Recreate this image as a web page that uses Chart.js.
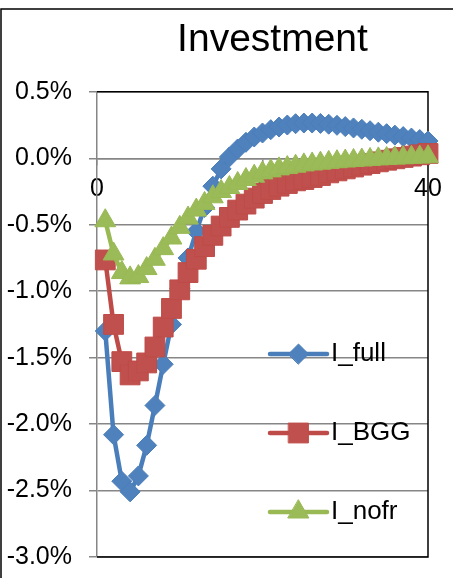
<!DOCTYPE html>
<html>
<head>
<meta charset="utf-8">
<title>Investment</title>
<script src="https://cdn.jsdelivr.net/npm/chart.js@4.4.1/dist/chart.umd.min.js"></script>
<style>
  html, body { margin: 0; padding: 0; background: #fff; overflow: hidden; }
  #wrap { width: 453px; height: 578px; overflow: hidden; }
  canvas { display: block; }
</style>
</head>
<body>
<div id="wrap"><canvas id="investChart" width="545" height="578"></canvas></div>
<script>
// ---------- Data ----------
const periods = [1, 2, 3, 4, 5, 6, 7, 8, 9, 10,
  11, 12, 13, 14, 15, 16, 17, 18, 19, 20,
  21, 22, 23, 24, 25, 26, 27, 28, 29, 30,
  31, 32, 33, 34, 35, 36, 37, 38, 39, 40];

// values in percent
const iFull = [-1.30, -2.08, -2.43, -2.51, -2.39, -2.16, -1.86, -1.55, -1.25, -0.98,
  -0.75, -0.55, -0.37, -0.21, -0.08, 0.01, 0.07, 0.12, 0.16, 0.19,
  0.215, 0.235, 0.25, 0.26, 0.265, 0.265, 0.262, 0.256, 0.248, 0.238,
  0.228, 0.218, 0.207, 0.196, 0.185, 0.174, 0.163, 0.152, 0.141, 0.13];

const iBGG = [-0.765, -1.25, -1.53, -1.63, -1.60, -1.54, -1.42, -1.27, -1.13, -0.99,
  -0.86, -0.76, -0.665, -0.58, -0.51, -0.445, -0.39, -0.345, -0.30, -0.265,
  -0.235, -0.21, -0.19, -0.17, -0.16, -0.145, -0.13, -0.11, -0.095, -0.08,
  -0.066, -0.052, -0.04, -0.027, -0.015, -0.004, 0.006, 0.016, 0.026, 0.036];

const iNofr = [-0.47, -0.72, -0.86, -0.90, -0.89, -0.83, -0.76, -0.68, -0.60, -0.52,
  -0.45, -0.39, -0.34, -0.29, -0.25, -0.22, -0.19, -0.16, -0.135, -0.11,
  -0.095, -0.08, -0.07, -0.06, -0.05, -0.043, -0.037, -0.031, -0.026, -0.021,
  -0.017, -0.013, -0.009, -0.005, -0.002, 0.001, 0.004, 0.007, 0.009, 0.011];

const seriesNames = ['I_full', 'I_BGG', 'I_nofr'];
const xTicks = [0, 20, 40];
const yTicks = [-3, -2.5, -2, -1.5, -1, -0.5, 0, 0.5];

const FONT = '"Liberation Sans", Arial, sans-serif';
const GRID = '#868686';

function toPoints(values) {
  return periods.map((p, i) => ({ x: p, y: values[i] }));
}

// ---------- Plugins ----------
// white background, outer chart border and the black plot frame
const chartFrame = {
  id: 'chartFrame',
  beforeDraw(chart) {
    const { ctx, width, height } = chart;
    ctx.save();
    ctx.fillStyle = '#fff';
    ctx.fillRect(0, 0, width, height);
    ctx.strokeStyle = '#000';
    ctx.lineWidth = 1.5;
    ctx.beginPath();
    ctx.moveTo(1, height + 5);
    ctx.lineTo(1, 9);
    ctx.lineTo(width + 5, 9);
    ctx.stroke();
    ctx.restore();
  },
  beforeDatasetsDraw(chart) {
    const { ctx, chartArea: a } = chart;
    ctx.save();
    ctx.strokeStyle = '#000';
    ctx.lineWidth = 1.5;
    ctx.beginPath();
    ctx.moveTo(a.left, a.top);
    ctx.lineTo(a.right, a.top);
    ctx.lineTo(a.right, a.bottom);
    ctx.lineTo(a.left, a.bottom);
    ctx.stroke();
    ctx.restore();
  }
};

// legend sitting inside the plot, like the spreadsheet one
const plotLegend = {
  id: 'plotLegend',
  afterDraw(chart, args, opts) {
    const { ctx } = chart;
    chart.data.datasets.forEach((ds, i) => {
      const y = opts.top + i * opts.step;
      const x0 = opts.left;
      const x1 = opts.left + opts.lineLength;
      ctx.save();
      ctx.strokeStyle = ds.borderColor;
      ctx.lineWidth = ds.borderWidth;
      ctx.lineCap = 'round';
      ctx.beginPath();
      ctx.moveTo(x0, y);
      ctx.lineTo(x1, y);
      ctx.stroke();

      ctx.fillStyle = ds.pointBackgroundColor;
      ctx.strokeStyle = ds.pointBorderColor;
      ctx.lineWidth = ds.pointBorderWidth;
      Chart.helpers.drawPoint(ctx, {
        pointStyle: ds.pointStyle,
        radius: ds.pointRadius,
        rotation: 0,
        borderWidth: ds.pointBorderWidth
      }, (x0 + x1) / 2, y);

      ctx.fillStyle = '#000';
      ctx.font = opts.fontSize + 'px ' + FONT;
      ctx.textAlign = 'left';
      ctx.textBaseline = 'middle';
      ctx.fillText(ds.label, x1 + opts.gap, y);
      ctx.restore();
    });
  }
};

// ---------- Chart ----------
const ctx = document.getElementById('investChart').getContext('2d');

new Chart(ctx, {
  type: 'line',
  data: {
    datasets: [
      {
        label: seriesNames[0],
        data: toPoints(iFull),
        borderColor: '#4A7EBB',
        borderWidth: 4.5,
        pointStyle: 'rectRot',
        pointRadius: 10,
        pointBackgroundColor: '#4F81BD',
        pointBorderColor: '#4A7EBB',
        pointBorderWidth: 1,
        order: 2
      },
      {
        label: seriesNames[1],
        data: toPoints(iBGG),
        borderColor: '#BE4B48',
        borderWidth: 4.5,
        pointStyle: 'rect',
        pointRadius: 14,
        pointBackgroundColor: '#C0504D',
        pointBorderColor: '#BE4B48',
        pointBorderWidth: 1,
        order: 1
      },
      {
        label: seriesNames[2],
        data: toPoints(iNofr),
        borderColor: '#98B954',
        borderWidth: 4.5,
        pointStyle: 'triangle',
        pointRadius: 12,
        pointBackgroundColor: '#9BBB59',
        pointBorderColor: '#98B954',
        pointBorderWidth: 1,
        order: 0
      }
    ]
  },
  options: {
    responsive: false,
    animation: false,
    devicePixelRatio: 1,
    clip: false,
    borderCapStyle: 'round',
    borderJoinStyle: 'round',
    tension: 0,
    layout: { padding: { left: 0, right: 0, top: 0, bottom: 21 } },
    plugins: {
      legend: { display: false },
      tooltip: { enabled: false },
      title: {
        display: true,
        text: 'Investment',
        color: '#000',
        font: { family: FONT, size: 39, weight: 'normal' },
        padding: { top: 17, bottom: 28 }
      },
      plotLegend: { left: 270, lineLength: 57, gap: 4, top: 354, step: 79, fontSize: 26 }
    },
    scales: {
      x: {
        type: 'linear',
        min: 0,
        max: 40,
        position: { y: 0 },
        afterBuildTicks: s => { s.ticks = xTicks.map(v => ({ value: v })); },
        ticks: {
          color: '#000',
          font: { family: FONT, size: 25 },
          padding: 10,
          maxRotation: 0
        },
        grid: { drawOnChartArea: false, tickLength: 6, tickColor: GRID, lineWidth: 1.5 },
        border: { color: GRID, width: 1.5 }
      },
      y: {
        min: -3,
        max: 0.5,
        position: 'left',
        afterBuildTicks: s => { s.ticks = yTicks.map(v => ({ value: v })); },
        // fixed axis width; the label overhang is already covered by title and bottom padding
        afterFit: s => { s.width = 97; s.paddingTop = 0; s.paddingBottom = 0; },
        ticks: {
          color: '#000',
          font: { family: FONT, size: 25 },
          padding: 17,
          callback: v => v.toFixed(1) + '%'
        },
        grid: { color: GRID, lineWidth: 1.5, tickLength: 8, tickColor: GRID },
        border: { color: GRID, width: 1.5 }
      },
      // empty right-hand axis, only reserves room so the plot ends where the original does
      yPad: {
        type: 'linear',
        position: 'right',
        ticks: { display: false },
        grid: { display: false },
        border: { display: false },
        afterFit: s => { s.width = 117; s.paddingTop = 0; s.paddingBottom = 0; }
      }
    }
  },
  plugins: [chartFrame, plotLegend]
});
</script>
</body>
</html>
